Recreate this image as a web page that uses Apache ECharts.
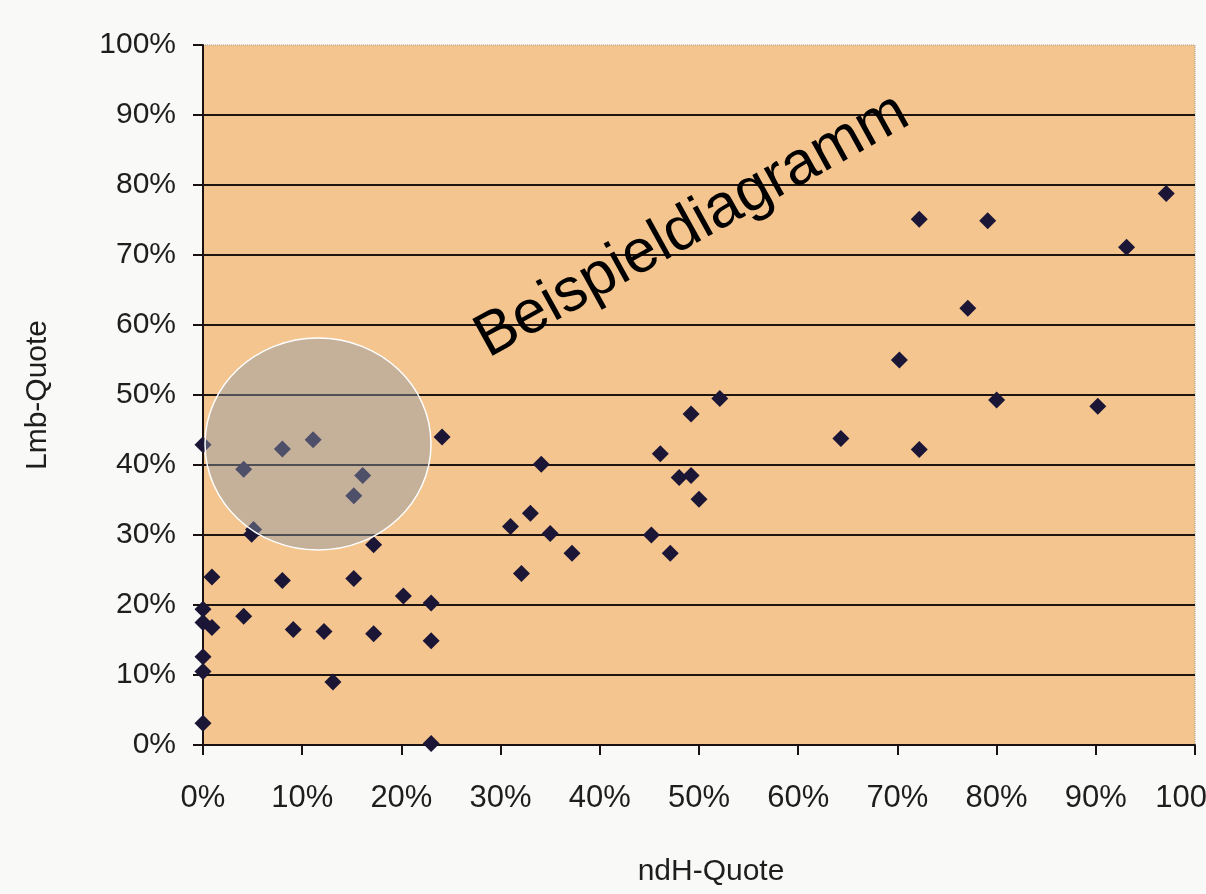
<!DOCTYPE html>
<html>
<head>
<meta charset="utf-8">
<script src="https://cdn.jsdelivr.net/npm/echarts@6/dist/echarts.min.js"></script>
<style>
  html, body { margin: 0; padding: 0; background: #f9f9f8; }
  #chart { width: 1206px; height: 894px; }
</style>
</head>
<body>
<div id="chart"></div>
<script>
// ndH-Quote (%) values
const xValues = [0, 4.1, 8.0, 11.1, 16.1, 15.2, 5.1, 4.9, 24.1, 17.2, 0.9, 8.0, 15.2, 20.2, 23.0, 0, 0, 0.9, 4.1, 9.1, 12.2, 17.2, 23.0, 0, 0, 13.1, 0, 23.0,
                 52.1, 49.2, 46.1, 34.1, 48.0, 49.2, 50.0, 33.0, 31.0, 35.0, 45.2, 37.2, 47.1, 32.1,
                 97.1, 72.2, 79.1, 93.1, 77.1, 70.2, 80.0, 90.2, 64.3, 72.2];
// Lmb-Quote (%) values
const yValues = [42.9, 39.4, 42.3, 43.6, 38.5, 35.6, 30.8, 30.1, 44.0, 28.6, 24.0, 23.5, 23.8, 21.3, 20.3, 19.4, 17.5, 16.8, 18.4, 16.5, 16.2, 15.9, 14.9, 12.6, 10.5, 9.0, 3.1, 0.2,
                 49.5, 47.3, 41.6, 40.1, 38.2, 38.5, 35.1, 33.1, 31.2, 30.2, 30.0, 27.4, 27.4, 24.5,
                 78.8, 75.1, 74.9, 71.1, 62.4, 55.0, 49.3, 48.4, 43.8, 42.2];
const xAxisTitle = 'ndH-Quote';
const yAxisTitle = 'Lmb-Quote';
const watermark = 'Beispieldiagramm';

const points = xValues.map((x, i) => [x, yValues[i]]);
const font = '"Liberation Sans", Arial, sans-serif';

const chart = echarts.init(document.getElementById('chart'), null, { renderer: 'canvas' });
chart.setOption({
  backgroundColor: '#f9f9f8',
  animation: false,
  grid: {
    left: 203, right: 11, top: 45, bottom: 149,
    outerBoundsMode: 'none',
    containLabel: false,
    show: true,
    backgroundColor: '#f4c58f',
    borderColor: '#a89c90',
    borderWidth: 1,
    borderType: 'dotted'
  },
  xAxis: {
    type: 'value', min: 0, max: 100, interval: 10,
    name: xAxisTitle, nameLocation: 'middle', nameGap: 112,
    nameTextStyle: { fontFamily: font, fontSize: 30, color: '#1e1e1e', padding: [0, 0, 0, 24] },
    axisLine: { show: true, onZero: false, lineStyle: { color: '#1a1212', width: 2 } },
    axisTick: { show: true, length: 10, lineStyle: { color: '#1a1212', width: 2 } },
    axisLabel: { formatter: '{value}%', margin: 38, fontFamily: font, fontSize: 31, color: '#1e1e1e' },
    splitLine: { show: false }
  },
  yAxis: {
    type: 'value', min: 0, max: 100, interval: 10,
    name: yAxisTitle, nameLocation: 'middle', nameGap: 150,
    nameTextStyle: { fontFamily: font, fontSize: 30, color: '#1e1e1e' },
    axisLine: { show: true, onZero: false, lineStyle: { color: '#1a1212', width: 2 } },
    axisTick: { show: true, length: 10, lineStyle: { color: '#1a1212', width: 2 } },
    axisLabel: { formatter: '{value}%', margin: 27, fontFamily: font, fontSize: 30, color: '#1e1e1e' },
    splitLine: { show: true, showMinLine: false, showMaxLine: false, lineStyle: { color: '#1e1410', width: 2 } }
  },
  series: [{
    type: 'scatter',
    data: points,
    symbol: 'diamond',
    symbolSize: 17,
    itemStyle: { color: '#1c1636', opacity: 1 },
    z: 3
  }],
  graphic: [
    {
      type: 'ellipse',
      shape: { cx: 318, cy: 444, rx: 113, ry: 106 },
      style: { fill: 'rgba(140,150,168,0.45)', stroke: '#ffffff', lineWidth: 1.5 },
      z: 100
    },
    {
      type: 'text',
      x: 692, y: 226,
      rotation: 29 * Math.PI / 180,
      style: {
        text: watermark,
        fontFamily: font,
        fontSize: 61,
        fill: '#000000',
        textAlign: 'center',
        textVerticalAlign: 'middle'
      },
      z: 101
    }
  ]
});
</script>
</body>
</html>
